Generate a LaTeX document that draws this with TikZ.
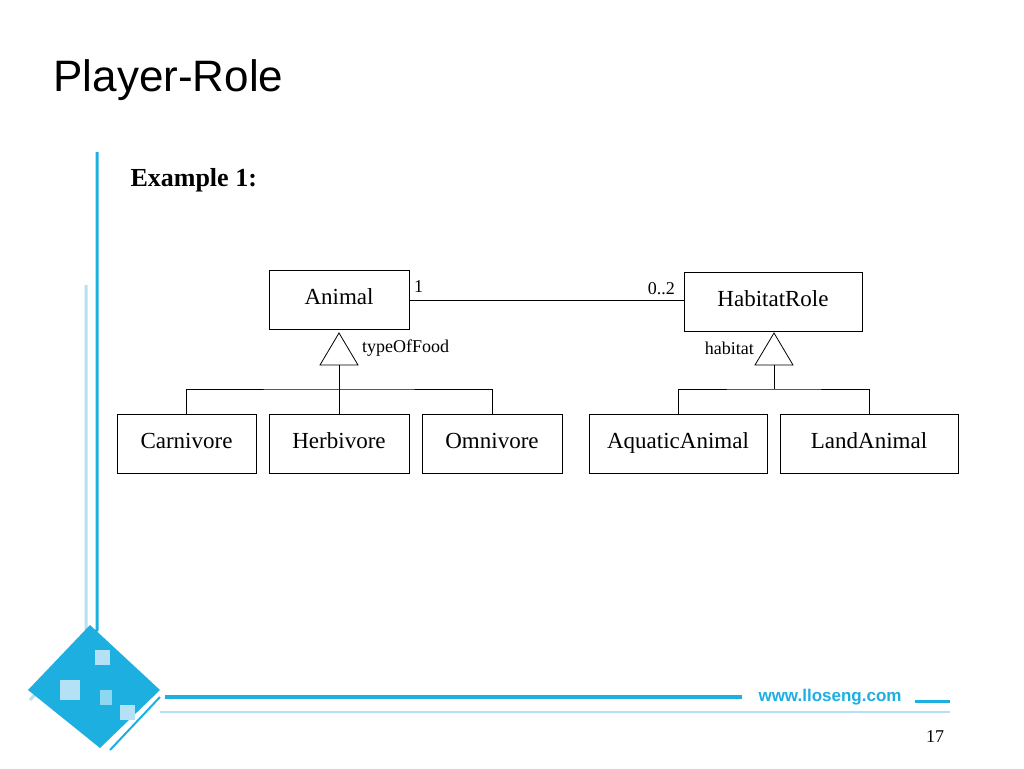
\documentclass[tikz,border=0pt]{standalone}
\usepackage{fontspec}
\setmainfont{Liberation Serif}
\newfontfamily\sans{Liberation Sans}
\definecolor{lb}{RGB}{30,175,225}
\definecolor{llb}{RGB}{180,225,245}
\begin{document}
\begin{tikzpicture}[x=1pt,y=-1pt,
  cls/.style={draw,line width=0.8pt,minimum width=#1,minimum height=59pt,inner sep=0pt,text height=15pt,text depth=5pt,font=\fontsize{23}{23}\selectfont},
  lab/.style={font=\fontsize{18}{18}\selectfont,inner sep=1pt},
  ln/.style={line width=0.8pt}]
\useasboundingbox (0,0) rectangle (1024,768);
% decoration
\draw[lb,line width=3pt] (97,152) -- (97,630) -- (40,690);
\draw[llb,line width=3pt] (86,285) -- (86,640) -- (30,700);
\fill[lb] (28,690) -- (90,625) -- (160,690) -- (100,748) -- cycle;
\fill[llb] (60,680) rectangle (80,700);
\fill[llb] (95,650) rectangle (110,665);
\fill[white,opacity=.5] (100,690) rectangle (112,705);
\fill[llb] (120,705) rectangle (135,720);
\draw[lb,line width=4pt] (165,697) -- (742,697);
\draw[llb,line width=2pt] (160,712) -- (950,712);
\draw[lb,line width=2pt] (160,697) -- (110,750);
\draw[lb,line width=3pt] (915,701) -- (950,701);
\node[lb,font=\sans\bfseries\fontsize{17}{17}\selectfont] (url) at (830,697) {www.lloseng.com};
\node[font=\fontsize{18}{18}\selectfont] (pg) at (935,737) {17};
% titles
\node[anchor=west,font=\sans\fontsize{44}{44}\selectfont] (title) at (50,80) {Player-Role};
\node[anchor=west,font=\bfseries\fontsize{26}{26}\selectfont] (ex) at (127,180) {Example 1:};
% classes
\node[cls=140pt] (animal) at (339,299.5) {Animal};
\node[cls=178pt] (hab) at (773,301.5) {HabitatRole};
\node[cls=139pt] (carn) at (186.5,443.5) {Carnivore};
\node[cls=140pt] (herb) at (339,443.5) {Herbivore};
\node[cls=140pt] (omni) at (492,443.5) {Omnivore};
\node[cls=178pt] (aqua) at (678,443.5) {AquaticAnimal};
\node[cls=178pt] (land) at (869,443.5) {LandAnimal};
% association
\draw[ln] (animal.east |- 0,300) -- (hab.west |- 0,300);
\node[lab,anchor=south west] (m1) at (413,294) {1};
\node[lab,anchor=south east] (m2) at (676,296) {0..2};
% generalization left
\coordinate (la) at (339,333);
\coordinate (lb1) at (320,365);
\coordinate (lb2) at (358,365);
\draw[ln] (la) -- (lb2) -- (lb1) -- cycle;
\coordinate (lj) at (339,389);
\draw[ln] (339,365) -- (lj);
\draw[ln] (carn.north) |- (lj) -| (omni.north);
\draw[ln] (lj) -- (herb.north);
\node[lab,anchor=west] (tf) at (361,348) {typeOfFood};
% generalization right
\coordinate (ra) at (774,333);
\draw[ln] (ra) -- (793,365) -- (755,365) -- cycle;
\coordinate (rj) at (774,389);
\draw[ln] (774,365) -- (rj);
\draw[ln] (aqua.north) |- (rj) -| (land.north);
\node[lab,anchor=east] (ht) at (755,348) {habitat};
\end{tikzpicture}
\end{document}
